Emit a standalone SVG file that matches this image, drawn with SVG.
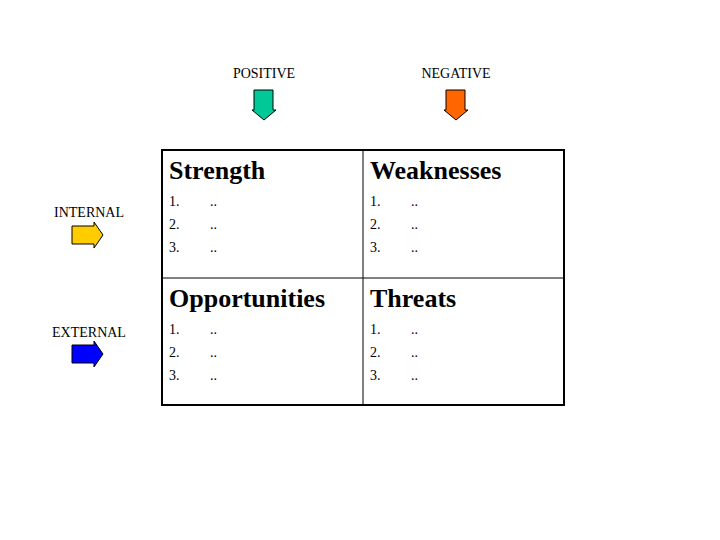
<svg xmlns="http://www.w3.org/2000/svg" width="720" height="540" viewBox="0 0 720 540">
<style>
.l{font-family:"Liberation Serif",serif;font-size:14px;fill:#000}
.h{font-family:"Liberation Serif",serif;font-size:26px;font-weight:bold;fill:#000}
.n{font-family:"Liberation Serif",serif;font-size:14px;fill:#000}
.a{stroke:#000;stroke-width:1}
</style>
<rect width="720" height="540" fill="#fff"/>
<g id="labels">
<text class="l" x="264" y="78" text-anchor="middle">POSITIVE</text>
<text class="l" x="456" y="78" text-anchor="middle">NEGATIVE</text>
<text class="l" x="89" y="217" text-anchor="middle">INTERNAL</text>
<text class="l" x="89" y="337" text-anchor="middle">EXTERNAL</text>
</g>
<g id="arrows">
<path class="a" fill="#00c896" d="M254,90 H273 V110 H276 L264,120 L252,110 H254 Z"/>
<path class="a" fill="#ff6600" d="M446,90 H465 V110 H468 L456,120 L444,110 H446 Z"/>
<path class="a" fill="#ffcc00" d="M72,226 H94 V222 L103,235 L94,248 V244 H72 Z"/>
<path class="a" fill="#0000ff" d="M72,345 H94 V341 L103,354 L94,367 V363 H72 Z"/>
</g>
<g id="table">
<rect x="162" y="150" width="402" height="255" fill="none" stroke="#000" stroke-width="2"/>
<line x1="363" y1="150" x2="363" y2="405" stroke="#000" stroke-width="1"/>
<line x1="162" y1="278" x2="564" y2="278" stroke="#000" stroke-width="1"/>
</g>
<g id="strength">
<text class="h" x="169" y="179">Strength</text>
<text class="n" x="169" y="206">1.</text><text class="n" x="210" y="206">..</text>
<text class="n" x="169" y="229">2.</text><text class="n" x="210" y="229">..</text>
<text class="n" x="169" y="252">3.</text><text class="n" x="210" y="252">..</text>
</g>
<g id="weaknesses">
<text class="h" x="370" y="179">Weaknesses</text>
<text class="n" x="370" y="206">1.</text><text class="n" x="411" y="206">..</text>
<text class="n" x="370" y="229">2.</text><text class="n" x="411" y="229">..</text>
<text class="n" x="370" y="252">3.</text><text class="n" x="411" y="252">..</text>
</g>
<g id="opportunities">
<text class="h" x="169" y="307">Opportunities</text>
<text class="n" x="169" y="334">1.</text><text class="n" x="210" y="334">..</text>
<text class="n" x="169" y="357">2.</text><text class="n" x="210" y="357">..</text>
<text class="n" x="169" y="380">3.</text><text class="n" x="210" y="380">..</text>
</g>
<g id="threats">
<text class="h" x="370" y="307">Threats</text>
<text class="n" x="370" y="334">1.</text><text class="n" x="411" y="334">..</text>
<text class="n" x="370" y="357">2.</text><text class="n" x="411" y="357">..</text>
<text class="n" x="370" y="380">3.</text><text class="n" x="411" y="380">..</text>
</g>
</svg>
